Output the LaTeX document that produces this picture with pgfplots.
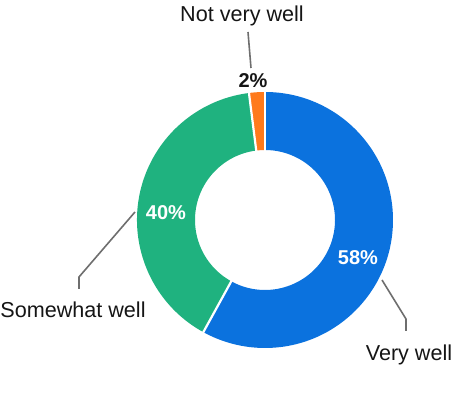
\documentclass[border=0pt]{standalone}
\usepackage{pgfplots}
\pgfplotsset{compat=1.18}
\usepackage{fontspec}
\setmainfont{Liberation Sans}
\usetikzlibrary{calc}
\definecolor{cblue}{HTML}{0B72DE}
\definecolor{cgreen}{HTML}{1FB27F}
\definecolor{corange}{HTML}{FF7A1C}
\definecolor{cline}{HTML}{6E6E6E}
\definecolor{ctext}{HTML}{151515}
% shares (percent): Very well, Somewhat well, Not very well
\def\vA{58}\def\vB{40}\def\vC{2}
\pgfmathsetmacro{\aA}{90}
\pgfmathsetmacro{\aB}{90-3.6*\vA}
\pgfmathsetmacro{\aC}{\aB-3.6*\vB}
\pgfmathsetmacro{\aD}{\aC-3.6*\vC}
\def\Ro{64pt}\def\Ri{35pt}
\begin{document}
\begin{tikzpicture}
\begin{axis}[x=0.5pt,y=0.5pt,xmin=0,xmax=452,ymin=0,ymax=394,hide axis,clip=false]
\fill[cblue] ($(axis cs:265,174)+(\aA:\Ro)$) arc[start angle=\aA,end angle=\aB,radius=\Ro] -- ($(axis cs:265,174)+(\aB:\Ri)$) arc[start angle=\aB,end angle=\aA,radius=\Ri] -- cycle;
\fill[cgreen] ($(axis cs:265,174)+(\aB:\Ro)$) arc[start angle=\aB,end angle=\aC,radius=\Ro] -- ($(axis cs:265,174)+(\aC:\Ri)$) arc[start angle=\aC,end angle=\aB,radius=\Ri] -- cycle;
\fill[corange] ($(axis cs:265,174)+(\aC:\Ro)$) arc[start angle=\aC,end angle=\aD,radius=\Ro] -- ($(axis cs:265,174)+(\aD:\Ri)$) arc[start angle=\aD,end angle=\aC,radius=\Ri] -- cycle;
\draw[white,line width=1.1pt] ($(axis cs:265,174)+(\aA:33pt)$) -- ($(axis cs:265,174)+(\aA:66pt)$);
\draw[white,line width=1.1pt] ($(axis cs:265,174)+(\aB:33pt)$) -- ($(axis cs:265,174)+(\aB:66pt)$);
\draw[white,line width=1.1pt] ($(axis cs:265,174)+(\aC:33pt)$) -- ($(axis cs:265,174)+(\aC:66pt)$);
% leader lines
\draw[cline,line width=0.8pt] (axis cs:248,362) -- (axis cs:251,326);
\draw[cline,line width=0.8pt] (axis cs:135,182) -- (axis cs:79,117) -- (axis cs:79,105);
\draw[cline,line width=0.8pt] (axis cs:382,114) -- (axis cs:406,75) -- (axis cs:406,63);
% labels
\node[font=\fontsize{10.8}{12}\selectfont,text=ctext,inner sep=0pt] at (axis cs:242,378) {Not very well};
\node[font=\fontsize{10.8}{12}\selectfont,text=ctext,inner sep=0pt] at (axis cs:73,84) {Somewhat well};
\node[font=\fontsize{10.8}{12}\selectfont,text=ctext,inner sep=0pt] at (axis cs:409,39) {Very well};
\node[font=\fontsize{10}{12}\selectfont\bfseries,text=ctext,inner sep=0pt] at (axis cs:253,313) {\vC\%};
\node[font=\fontsize{10}{12}\selectfont\bfseries,text=white,inner sep=0pt] at (axis cs:166,181) {\vB\%};
\node[font=\fontsize{10}{12}\selectfont\bfseries,text=white,inner sep=0pt] at (axis cs:358,136) {\vA\%};
\end{axis}
\pgfresetboundingbox
\path[use as bounding box] (current axis.south west) rectangle (current axis.north east);
\end{tikzpicture}
\end{document}
